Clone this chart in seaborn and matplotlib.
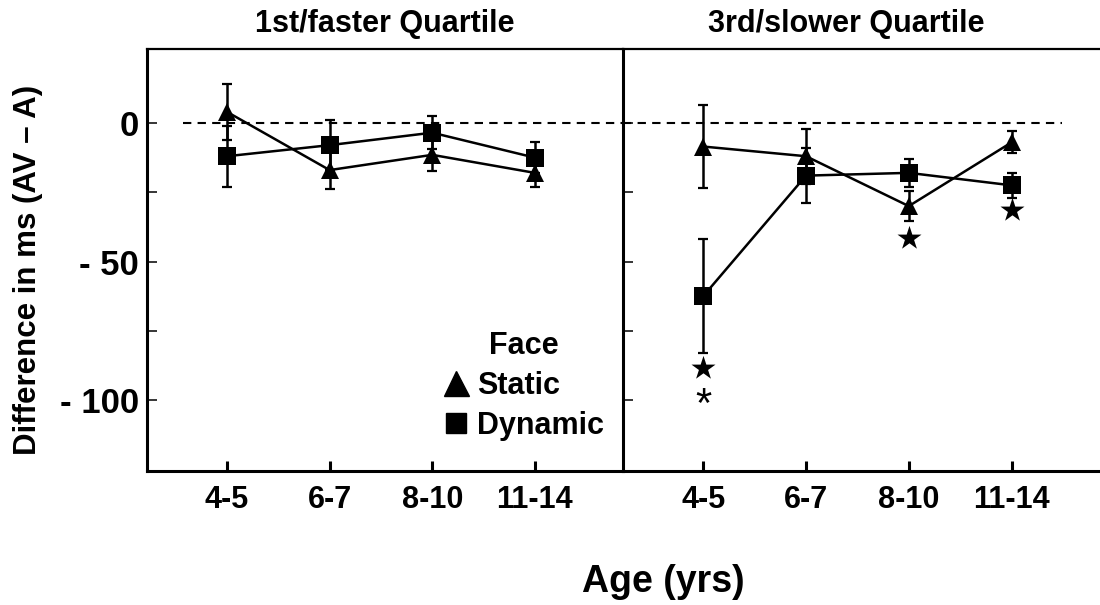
import matplotlib
matplotlib.use("Agg")
import matplotlib.pyplot as plt
from matplotlib.lines import Line2D
import seaborn as sns
import pandas as pd

# categories
ages = ["4-5", "6-7", "8-10", "11-14"]
panels = ["1st/faster Quartile", "3rd/slower Quartile"]
faces = ["Static", "Dynamic"]

# 1st/faster quartile (ms)
fast_static = [4, -17, -11.5, -18]
fast_static_err = [10, 7, 6, 5]
fast_dynamic = [-12, -8, -3.5, -12.5]
fast_dynamic_err = [11, 9, 6, 5.5]

# 3rd/slower quartile (ms)
slow_static = [-8.5, -12, -30, -7]
slow_static_err = [15, 10, 5.5, 4]
slow_dynamic = [-62.5, -19, -18, -22.5]
slow_dynamic_err = [20.5, 10, 5, 4.5]

# significance marks in the slower quartile
star_ages = ["4-5", "8-10", "11-14"]
star_vals = [-88.5, -41.5, -31.5]
asterisk_age = "4-5"
asterisk_val = -99

yticks = [0, -50, -100]
ytick_labels = ["0", "- 50", "- 100"]
yminor = [-25, -75]


def build_frame():
    rows = []
    series = {
        (panels[0], "Static"): (fast_static, fast_static_err),
        (panels[0], "Dynamic"): (fast_dynamic, fast_dynamic_err),
        (panels[1], "Static"): (slow_static, slow_static_err),
        (panels[1], "Dynamic"): (slow_dynamic, slow_dynamic_err),
    }
    for (panel, face), (vals, errs) in series.items():
        for i, (age, v, e) in enumerate(zip(ages, vals, errs)):
            rows.append({"panel": panel, "face": face, "age": age,
                         "pos": i, "value": v, "err": e})
    return pd.DataFrame(rows)


df = build_frame()

sns.set_style("ticks")
plt.rcParams['font.family'] = ['Liberation Sans', 'DejaVu Sans']
plt.rcParams['font.weight'] = 'bold'
plt.rcParams['axes.labelweight'] = 'bold'
for key in ['text.color', 'axes.labelcolor', 'xtick.color', 'ytick.color',
            'axes.edgecolor']:
    plt.rcParams[key] = 'black'

fig = plt.figure(figsize=(11, 6.05), dpi=100)
ax_l = fig.add_axes([147 / 1100, 1 - 471 / 605, 476 / 1100, 422 / 605])
ax_r = fig.add_axes([623 / 1100, 1 - 471 / 605, 477 / 1100, 422 / 605])
axes = [ax_l, ax_r]

markers = {"Static": "^", "Dynamic": "s"}

for ax, panel in zip(axes, panels):
    sub = df[df["panel"] == panel]
    for face in faces:
        d = sub[sub["face"] == face]
        ax.errorbar(d["pos"], d["value"], yerr=d["err"], fmt='none',
                    ecolor='black', elinewidth=1.8, capsize=3.5, capthick=1.6,
                    zorder=2)
    sns.lineplot(data=sub, x="pos", y="value", style="face", markers=markers,
                 dashes=False, color="black", linewidth=1.8, markersize=13,
                 markeredgecolor="black", markeredgewidth=0, legend=False,
                 ax=ax, zorder=3, sort=False)

    ax.set_xlim(-0.78, 3.86)
    ax.set_ylim(-125.6, 26.7)
    ax.set_xticks(range(len(ages)))
    ax.set_xticklabels(ages, fontsize=22, fontweight='bold')
    ax.set_yticks(yticks + yminor)
    ax.set_xlabel("")
    ax.set_ylabel("")
    ax.tick_params(axis='x', direction='in', length=7, width=2.2, pad=10)
    ax.tick_params(axis='y', direction='in', length=7, width=1.1, pad=6)
    for s in ax.spines.values():
        s.set_linewidth(2.2)
        s.set_color('black')
    ax.spines['top'].set_linewidth(1.6)

# reference line at zero
ax_l.axhline(0, xmin=0.076, xmax=1, color='black', lw=1.5,
             linestyle=(0, (4, 3)), zorder=1)
ax_r.axhline(0, xmin=0, xmax=0.92, color='black', lw=1.5,
             linestyle=(0, (4, 3)), zorder=1)

ax_l.set_yticklabels(ytick_labels + ["", ""], fontsize=25, fontweight='bold')
ax_r.set_yticklabels([])
ax_l.spines['right'].set_visible(False)
ax_r.spines['right'].set_visible(False)

ax_l.set_title(panels[0], fontsize=22, fontweight='bold', pad=12)
ax_r.set_title(panels[1], fontsize=22, fontweight='bold', pad=12, x=0.468)

# stars and asterisk
star_pos = [ages.index(a) for a in star_ages]
sns.scatterplot(x=star_pos, y=star_vals, marker='*', s=330, color='black',
                linewidth=0, ax=ax_r, zorder=4, legend=False)
ax_r.annotate("*", (ages.index(asterisk_age), asterisk_val),
              xytext=(0, -9), textcoords='offset pixels', ha='center',
              va='center', fontsize=30, fontweight='normal')

# legend
handles = [Line2D([], [], marker=markers[f], color='black', linestyle='none',
                  markersize=18 if f == "Static" else 15) for f in faces]
leg = ax_l.legend(handles, faces, title="Face", loc='lower right',
                  bbox_to_anchor=(1.006, 0.02), frameon=False, fontsize=22,
                  title_fontproperties={'size': 22, 'weight': 'bold'},
                  handlelength=0.8, handletextpad=0.3, labelspacing=0.33,
                  borderpad=0.2)

fig.text(28 / 1100, 1 - 270 / 605, "Difference in ms (AV \u2013 A)",
         rotation=90, ha='center', va='center', fontsize=22.5,
         fontweight='bold')
fig.text(663 / 1100, 1 - 582 / 605, "Age (yrs)", ha='center', va='center',
         fontsize=27, fontweight='bold')

plt.savefig("out.png", dpi=100)
plt.close()
